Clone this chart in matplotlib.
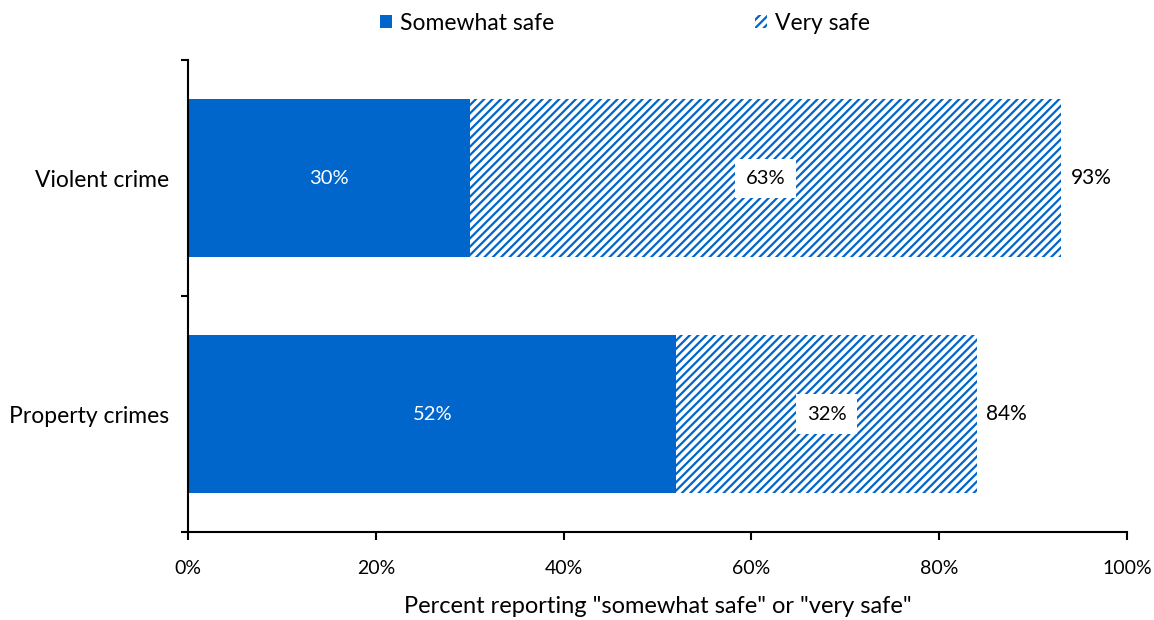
import matplotlib.pyplot as plt
from matplotlib.patches import Patch

categories = ['Violent crime', 'Property crimes']
somewhat_safe = [30, 52]
very_safe = [63, 32]
totals = [93, 84]

blue = '#0066CC'

plt.rcParams['font.family'] = ['Lato', 'DejaVu Sans']
plt.rcParams['hatch.linewidth'] = 1.6

fig = plt.figure(figsize=(11.54, 6.2), dpi=100)
ax = fig.add_axes([0.163, 0.142, 0.8136, 0.761])

ypos = [1, 0]  # violent on top
ax.barh(ypos, somewhat_safe, height=0.67, color=blue, edgecolor='none')
ax.barh(ypos, very_safe, left=somewhat_safe, height=0.67, facecolor='white',
        edgecolor=blue, linewidth=0, hatch='////')

for y, s, v, t in zip(ypos, somewhat_safe, very_safe, totals):
    ax.text(s / 2, y, f'{s}%', ha='center', va='center', color='white', fontsize=14.5)
    ax.text(s + v / 2, y, f'{v}%', ha='center', va='center', color='black', fontsize=14.5,
            bbox=dict(boxstyle='square,pad=0.55', facecolor='white', edgecolor='none'))
    ax.text(t + 1, y, f'{t}%', ha='left', va='center', color='black', fontsize=15)

ax.set_xlim(0, 100)
ax.set_ylim(-0.5, 1.5)
ax.set_xticks(range(0, 101, 20))
ax.set_xticklabels([f'{x}%' for x in range(0, 101, 20)], fontsize=14)
ax.set_yticks([-0.5, 0.5, 1.5])
ax.set_yticklabels([])
ax.set_yticks(ypos, minor=True)
ax.set_yticklabels(categories, minor=True, fontsize=16.5)
ax.tick_params(axis='y', which='minor', length=0, pad=14)
ax.tick_params(axis='y', which='major', length=5, width=1.5)
ax.tick_params(axis='x', length=6, width=1.5, pad=14)
for side in ['top', 'right']:
    ax.spines[side].set_visible(False)
for side in ['left', 'bottom']:
    ax.spines[side].set_linewidth(1.5)

ax.set_xlabel('Percent reporting "somewhat safe" or "very safe"', fontsize=17, labelpad=14)

handles = [Patch(facecolor=blue, edgecolor='none'),
           Patch(facecolor='white', edgecolor=blue, linewidth=0, hatch='////')]
fig.legend(handles, ['Somewhat safe', 'Very safe'], loc='center',
           bbox_to_anchor=(0.5416, 0.962), ncol=2, frameon=False, fontsize=16.5,
           handlelength=0.5, handleheight=0.5, handletextpad=0.35, columnspacing=8.8)

fig.savefig('out.png', dpi=100)
